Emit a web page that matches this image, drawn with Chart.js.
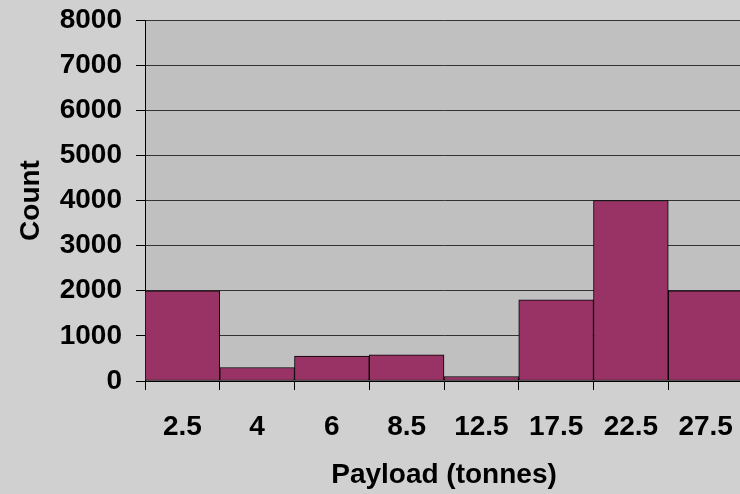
<!DOCTYPE html>
<html>
<head>
<meta charset="utf-8">
<script src="https://cdn.jsdelivr.net/npm/chart.js@4/dist/chart.umd.min.js"></script>
<style>
  html, body { margin: 0; padding: 0; overflow: hidden; background: #d0d0d0; }
  canvas { display: block; }
</style>
</head>
<body>
<canvas id="histChart" width="743" height="494"></canvas>
<script>
// payload bins and counts
const payloadBins = ['2.5', '4', '6', '8.5', '12.5', '17.5', '22.5', '27.5'];
const counts = [2000, 300, 550, 580, 100, 1800, 4000, 2000];
const yTicks = [0, 1000, 2000, 3000, 4000, 5000, 6000, 7000, 8000];

const fontFamily = '"Liberation Sans", Arial, sans-serif';

// paint the grey chart and plot backgrounds
const backgrounds = {
    id: 'backgrounds',
    beforeDraw(chart) {
        const { ctx, chartArea } = chart;
        ctx.save();
        ctx.fillStyle = '#d0d0d0';
        ctx.fillRect(0, 0, chart.width, chart.height);
        ctx.fillStyle = '#c0c0c0';
        ctx.fillRect(chartArea.left, chartArea.top,
            chartArea.right - chartArea.left, chartArea.bottom - chartArea.top);
        ctx.restore();
    }
};

const ctx = document.getElementById('histChart').getContext('2d');

new Chart(ctx, {
    type: 'bar',
    data: {
        labels: payloadBins,
        datasets: [{
            label: 'Count',
            data: counts,
            backgroundColor: '#993366',
            borderColor: '#000000',
            borderWidth: 1,
            borderSkipped: false,
            barPercentage: 1,
            categoryPercentage: 1
        }]
    },
    options: {
        responsive: false,
        animation: false,
        layout: { padding: { top: 20, left: 0, right: 0, bottom: 0 } },
        plugins: {
            legend: { display: false },
            tooltip: { enabled: false }
        },
        scales: {
            x: {
                grid: {
                    drawOnChartArea: false,
                    offset: true,
                    tickLength: 9,
                    tickColor: '#000000'
                },
                border: { color: '#000000', width: 1 },
                ticks: {
                    color: '#000000',
                    padding: 20,
                    maxRotation: 0,
                    autoSkip: false,
                    font: { family: fontFamily, size: 28, weight: 'bold' }
                },
                title: {
                    display: true,
                    text: 'Payload (tonnes)',
                    color: '#000000',
                    padding: { top: 0, bottom: 2 },
                    font: { family: fontFamily, size: 28, weight: 'bold' }
                },
                afterFit(scale) {
                    scale.height = 113;
                    scale.paddingLeft = 0;
                    scale.paddingRight = 0;
                }
            },
            y: {
                min: yTicks[0],
                max: yTicks[yTicks.length - 1],
                afterBuildTicks(scale) {
                    scale.ticks = yTicks.map(v => ({ value: v }));
                },
                grid: {
                    color: '#333333',
                    tickLength: 9,
                    tickColor: '#000000'
                },
                border: { color: '#000000', width: 1 },
                ticks: {
                    color: '#000000',
                    padding: 14,
                    callback: value => String(value),
                    font: { family: fontFamily, size: 28, weight: 'bold' }
                },
                title: {
                    display: true,
                    text: 'Count',
                    color: '#000000',
                    padding: { top: 14, bottom: 0 },
                    font: { family: fontFamily, size: 28, weight: 'bold' }
                },
                afterFit(scale) {
                    scale.width = 145;
                    scale.paddingTop = 0;
                    scale.paddingBottom = 0;
                }
            }
        }
    },
    plugins: [backgrounds]
});
</script>
</body>
</html>
